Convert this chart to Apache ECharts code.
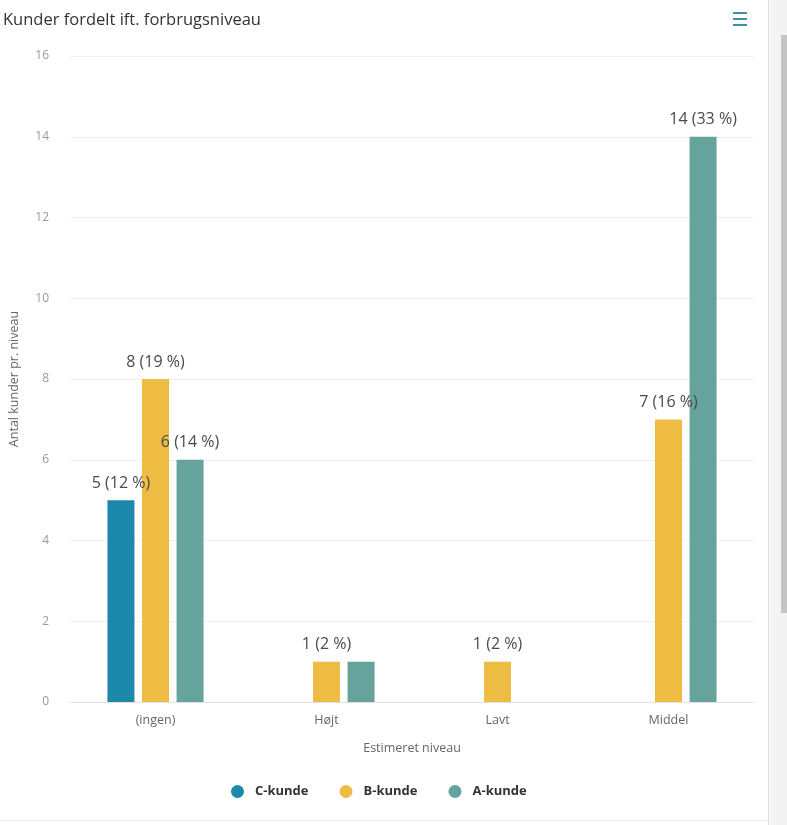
<!DOCTYPE html>
<html>
<head>
<meta charset="utf-8">
<script src="https://cdn.jsdelivr.net/npm/echarts@6/dist/echarts.min.js"></script>
<style>
html,body{margin:0;padding:0;background:#fff;}
#chart{width:787px;height:825px;}
</style>
</head>
<body>
<div id="chart"></div>
<script>
const categories = ['(ingen)', 'Højt', 'Lavt', 'Middel'];
const seriesNames = ['C-kunde', 'B-kunde', 'A-kunde'];
const cValues = [5, null, null, null];
const bValues = [8, 1, 1, 7];
const aValues = [6, 1, null, 14];
const cPercent = [12, null, null, null];
const bPercent = [19, 2, 2, 16];
const aPercent = [14, 2, null, 33];
const yTicks = [0, 2, 4, 6, 8, 10, 12, 14, 16];

const colors = ['#1d89aa', '#efbc43', '#66a39c'];
const FONT = '"Open Sans", "Noto Sans", sans-serif';

function makeSeries(name, values, pct, color) {
  return {
    name: name,
    type: 'bar',
    data: values,
    barWidth: 27,
    barGap: '28%',
    itemStyle: { color: color },
    label: {
      show: true,
      position: 'top',
      distance: 9,
      fontFamily: FONT,
      fontSize: 16,
      color: '#4a4a4a',
      formatter: function (p) {
        if (p.value == null) return '';
        return p.value + ' (' + pct[p.dataIndex] + ' %)';
      }
    },
    labelLayout: { hideOverlap: true },
    emphasis: { disabled: true }
  };
}

const chart = echarts.init(document.getElementById('chart'), null, { renderer: 'canvas' });
chart.setOption({
  animation: false,
  backgroundColor: '#ffffff',
  textStyle: { fontFamily: FONT },
  title: {
    text: 'Kunder fordelt ift. forbrugsniveau',
    left: -2,
    top: 7,
    textStyle: { fontFamily: FONT, fontSize: 16.5, fontWeight: 'normal', color: '#333' }
  },
  legend: {
    left: 226,
    top: 780,
    icon: 'circle',
    itemWidth: 13,
    itemHeight: 13,
    itemGap: 31,
    data: seriesNames,
    textStyle: { fontFamily: FONT, fontSize: 13, fontWeight: 'bold', color: '#333', padding: [0, 0, 0, 6] }
  },
  grid: { left: 70, right: 33, top: 56, bottom: 123, containLabel: false },
  xAxis: {
    type: 'category',
    data: categories,
    name: 'Estimeret niveau',
    nameLocation: 'middle',
    nameGap: 40,
    nameTextStyle: { fontFamily: FONT, fontSize: 12.5, color: '#666' },
    axisLine: { lineStyle: { color: '#e3e3e3', width: 1 } },
    axisTick: { show: false },
    axisLabel: { margin: 12, fontFamily: FONT, fontSize: 12.5, color: '#666' }
  },
  yAxis: {
    type: 'value',
    min: yTicks[0],
    max: yTicks[yTicks.length - 1],
    interval: yTicks[1] - yTicks[0],
    name: 'Antal kunder pr. niveau',
    nameLocation: 'middle',
    nameGap: 49,
    nameRotate: 90,
    nameTextStyle: { fontFamily: FONT, fontSize: 12.5, color: '#666' },
    axisLine: { show: false },
    axisTick: { show: false },
    axisLabel: { margin: 21, fontFamily: FONT, fontSize: 12, color: '#999' },
    splitLine: { lineStyle: { color: '#f0f0f0', width: 1 } }
  },
  graphic: [
    { type: 'rect', shape: { x: 733, y: 12, width: 14, height: 2 }, style: { fill: '#3d8fa6' } },
    { type: 'rect', shape: { x: 733, y: 18, width: 14, height: 2 }, style: { fill: '#3d8fa6' } },
    { type: 'rect', shape: { x: 733, y: 24, width: 14, height: 2 }, style: { fill: '#3d8fa6' } },
    { type: 'rect', shape: { x: 770, y: 0, width: 17, height: 825 }, style: { fill: '#f3f3f3' } },
    { type: 'line', shape: { x1: 768.5, y1: 0, x2: 768.5, y2: 825 }, style: { stroke: '#dcdcdc', lineWidth: 1 } },
    { type: 'rect', shape: { x: 781, y: 35, width: 6, height: 578 }, style: { fill: '#c4c4c4' } },
    { type: 'line', shape: { x1: 0, y1: 820.5, x2: 768, y2: 820.5 }, style: { stroke: '#ececec', lineWidth: 1 } }
  ],
  series: [
    makeSeries(seriesNames[0], cValues, cPercent, colors[0]),
    makeSeries(seriesNames[1], bValues, bPercent, colors[1]),
    makeSeries(seriesNames[2], aValues, aPercent, colors[2])
  ]
});
</script>
</body>
</html>
